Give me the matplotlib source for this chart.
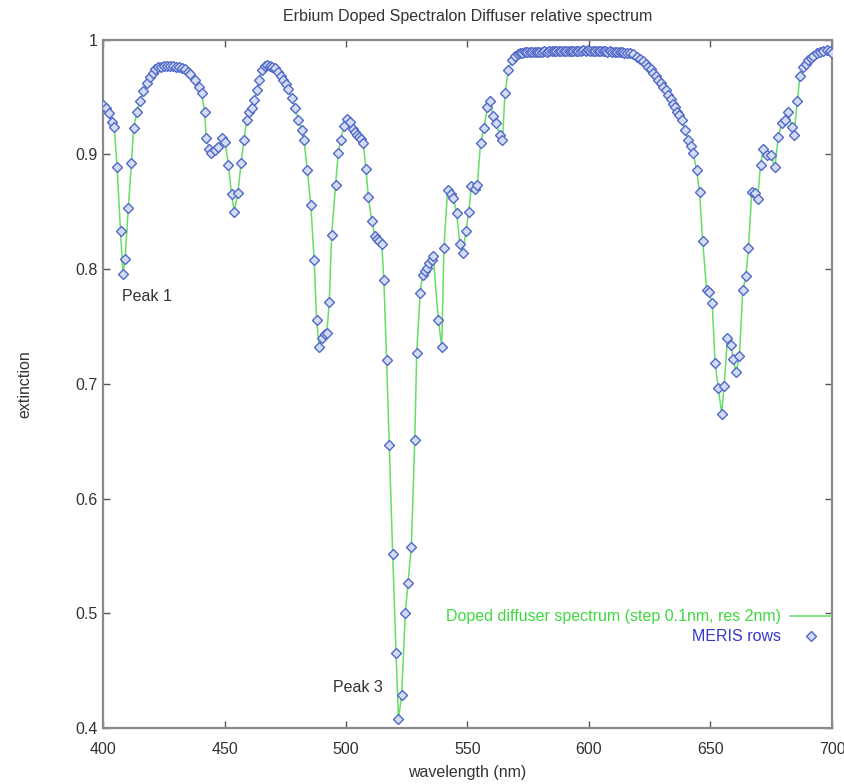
import matplotlib
matplotlib.use("Agg")
import matplotlib.pyplot as plt

# MERIS row sample points of the doped diffuser spectrum (wavelength in nm, extinction)
wavelength = [
    400.1, 401.3, 402.6, 403.9, 404.6, 405.8, 407.2, 408.2, 409.1, 410.4,
    411.7, 412.6, 413.9, 415.2, 416.6, 418.0, 419.2, 420.4, 421.6, 422.8,
    424.0, 425.2, 426.4, 427.6, 428.8, 430.0, 431.2, 432.4, 433.6, 434.8,
    435.9, 437.9, 439.4, 440.6, 441.8, 442.5, 443.7, 444.6, 445.9, 447.3,
    448.8, 450.2, 451.6, 452.9, 454.0, 455.5, 456.8, 458.0, 459.1, 460.2,
    461.2, 462.1, 463.3, 464.1, 465.3, 466.5, 467.6, 468.6, 469.6, 470.8,
    472.2, 473.3, 474.2, 475.3, 476.3, 477.6, 479.0, 480.4, 481.7, 482.7,
    484.1, 485.5, 486.9, 487.9, 489.0, 490.2, 491.4, 492.1, 493.1, 494.1,
    495.7, 496.8, 497.8, 499.2, 500.5, 501.6, 502.8, 503.6, 504.4, 505.3,
    506.2, 507.1, 508.2, 509.2, 510.6, 511.9, 512.8, 513.6, 514.7, 515.6,
    516.7, 517.8, 519.2, 520.6, 521.6, 522.9, 524.4, 525.5, 526.9, 528.3,
    529.1, 530.5, 531.5, 532.4, 533.2, 534.3, 535.2, 535.9, 538.0, 539.4,
    540.3, 541.8, 543.1, 544.2, 545.5, 546.9, 548.0, 549.4, 550.5, 551.6,
    553.1, 554.0, 555.4, 556.8, 558.2, 559.4, 560.4, 561.8, 563.3, 564.4,
    565.4, 566.8, 568.2, 569.5, 570.6, 571.6, 572.6, 573.6, 574.6, 575.6,
    576.6, 577.6, 578.6, 579.6, 580.6, 581.6, 582.6, 583.6, 584.6, 585.6,
    586.6, 587.6, 588.6, 589.6, 590.6, 591.6, 592.6, 593.6, 594.6, 595.6,
    596.6, 597.6, 598.6, 599.6, 600.6, 601.6, 602.6, 603.6, 604.6, 605.6,
    606.6, 607.6, 608.6, 609.6, 610.6, 611.6, 612.6, 613.6, 614.6, 615.6,
    616.9, 618.2, 619.6, 621.0, 622.4, 623.4, 624.4, 625.5, 626.5, 627.5,
    628.5, 629.6, 630.6, 631.7, 632.7, 633.6, 634.4, 635.3, 636.1, 637.1,
    638.1, 639.5, 640.9, 641.9, 642.9, 644.3, 645.5, 646.8, 648.4, 649.5,
    650.7, 651.9, 653.2, 654.6, 655.6, 657.0, 658.3, 659.4, 660.5, 661.9,
    663.3, 664.6, 665.6, 667.0, 668.3, 669.4, 670.6, 671.7, 673.1, 674.8,
    676.5, 677.9, 679.3, 680.7, 682.0, 683.4, 684.4, 685.7, 686.8, 688.2,
    689.2, 690.2, 691.3, 692.3, 693.7, 695.1, 696.5, 697.8, 699.0, 699.9,
]
extinction = [
    0.943, 0.940, 0.936, 0.928, 0.924, 0.889, 0.833, 0.796, 0.809, 0.853,
    0.892, 0.923, 0.937, 0.946, 0.955, 0.962, 0.967, 0.971, 0.974, 0.976,
    0.976, 0.977, 0.977, 0.977, 0.977, 0.976, 0.976, 0.975, 0.974, 0.972,
    0.970, 0.965, 0.959, 0.953, 0.937, 0.914, 0.905, 0.901, 0.904, 0.906,
    0.914, 0.911, 0.891, 0.865, 0.850, 0.866, 0.892, 0.912, 0.930, 0.937,
    0.940, 0.947, 0.956, 0.965, 0.973, 0.977, 0.978, 0.977, 0.976, 0.975,
    0.972, 0.968, 0.965, 0.961, 0.957, 0.949, 0.940, 0.930, 0.921, 0.912,
    0.886, 0.856, 0.808, 0.756, 0.732, 0.740, 0.743, 0.744, 0.771, 0.830,
    0.873, 0.901, 0.912, 0.925, 0.931, 0.928, 0.922, 0.919, 0.917, 0.915,
    0.913, 0.910, 0.887, 0.863, 0.842, 0.829, 0.826, 0.824, 0.822, 0.790,
    0.721, 0.647, 0.552, 0.465, 0.408, 0.429, 0.500, 0.526, 0.558, 0.651,
    0.727, 0.779, 0.795, 0.798, 0.801, 0.805, 0.808, 0.811, 0.756, 0.732,
    0.818, 0.869, 0.865, 0.862, 0.849, 0.822, 0.814, 0.833, 0.850, 0.872,
    0.870, 0.873, 0.910, 0.923, 0.941, 0.946, 0.933, 0.927, 0.917, 0.912,
    0.953, 0.973, 0.982, 0.986, 0.987, 0.988, 0.988, 0.989, 0.989, 0.989,
    0.989, 0.989, 0.989, 0.989, 0.989, 0.990, 0.989, 0.990, 0.990, 0.990,
    0.990, 0.990, 0.990, 0.990, 0.990, 0.990, 0.990, 0.990, 0.990, 0.990,
    0.990, 0.991, 0.990, 0.991, 0.990, 0.990, 0.990, 0.990, 0.990, 0.990,
    0.990, 0.989, 0.990, 0.989, 0.989, 0.989, 0.989, 0.989, 0.988, 0.988,
    0.988, 0.987, 0.985, 0.983, 0.981, 0.979, 0.976, 0.974, 0.971, 0.968,
    0.965, 0.962, 0.959, 0.956, 0.952, 0.948, 0.944, 0.941, 0.937, 0.934,
    0.930, 0.921, 0.912, 0.907, 0.901, 0.886, 0.867, 0.824, 0.782, 0.780,
    0.770, 0.718, 0.696, 0.674, 0.698, 0.740, 0.734, 0.722, 0.710, 0.724,
    0.782, 0.794, 0.818, 0.867, 0.866, 0.861, 0.891, 0.905, 0.899, 0.899,
    0.889, 0.915, 0.927, 0.930, 0.937, 0.924, 0.917, 0.946, 0.968, 0.976,
    0.979, 0.982, 0.984, 0.986, 0.988, 0.989, 0.990, 0.991, 0.990, 0.988,
]

x_ticks = [400, 450, 500, 550, 600, 650, 700]
y_ticks = [0.4, 0.5, 0.6, 0.7, 0.8, 0.9, 1.0]
y_ticklabels = ["0.4", "0.5", "0.6", "0.7", "0.8", "0.9", "1"]

peak_labels = ["Peak 1", "Peak 3"]
peak_pos = [(407.8, 0.776), (494.6, 0.435)]

FONT = ["Liberation Sans Narrow", "Liberation Sans", "DejaVu Sans"]
plt.rcParams["font.family"] = FONT

fig = plt.figure(figsize=(8.45, 7.84), dpi=100)
ax = fig.add_axes([0.1219, 0.0714, 0.8627, 0.8782])

line_green = "#66de66"
point_blue = "#5068c8"

ax.plot(wavelength, extinction, color=line_green, lw=1.1,
        label="Doped diffuser spectrum (step 0.1nm, res 2nm)", zorder=2)
ax.plot(wavelength, extinction, ls="none", marker="D", ms=5.5,
        mfc="#d4dcf5", mec=point_blue, mew=1.0,
        label="MERIS rows", zorder=3)

ax.set_xlim(400, 700)
ax.set_ylim(0.4, 1.0)
ax.set_xticks(x_ticks)
ax.set_yticks(y_ticks)
ax.set_yticklabels(y_ticklabels)
ax.tick_params(direction="in", length=5, width=1, color="#555555",
               labelsize=11.5, labelcolor="#333333", top=True, right=True)
ax.tick_params(axis="x", pad=10)
ax.tick_params(axis="y", pad=4)
for s in ax.spines.values():
    s.set_color("#8a8a8a")
    s.set_linewidth(1.6)

ax.set_title("Erbium Doped Spectralon Diffuser relative spectrum",
             fontsize=11.5, color="#333333", pad=13)
ax.set_xlabel("wavelength (nm)", fontsize=11.5, color="#333333", labelpad=6)
ax.set_ylabel("extinction", fontsize=11.5, color="#333333", labelpad=31)

for txt, (px, py) in zip(peak_labels, peak_pos):
    ax.text(px, py, txt, fontsize=11.5, color="#333333", va="center", ha="left")

leg = ax.legend(loc="center right", bbox_to_anchor=(1.0, 0.147),
                markerfirst=False, frameon=False, fontsize=11.5,
                handlelength=2.6, handletextpad=0.6, labelspacing=0.3,
                borderaxespad=0.0, borderpad=0.0, numpoints=1)
leg.get_texts()[0].set_color("#3fd83f")
leg.get_texts()[1].set_color("#3838c8")

fig.savefig("out.png", dpi=100, facecolor="white")
